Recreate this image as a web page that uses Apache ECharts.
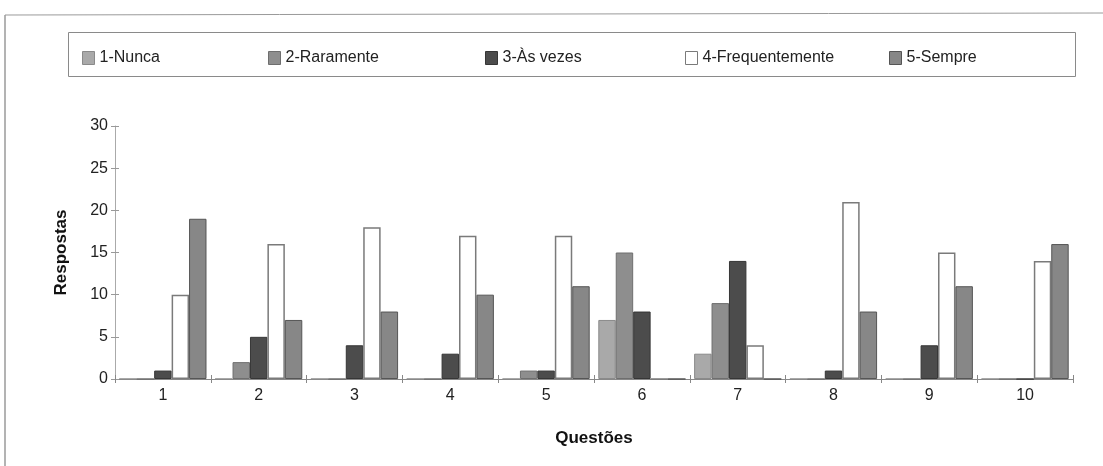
<!DOCTYPE html>
<html>
<head>
<meta charset="utf-8">
<script src="https://cdn.jsdelivr.net/npm/echarts@6/dist/echarts.min.js"></script>
<style>
  html, body { margin: 0; padding: 0; background: #fff; }
  #chart { width: 1103px; height: 466px; }
</style>
</head>
<body>
<div id="chart"></div>
<script>
// Questions on the x axis and answer counts per frequency level
const questoes = ['1', '2', '3', '4', '5', '6', '7', '8', '9', '10'];
const yTicks = [0, 5, 10, 15, 20, 25, 30];

const nunca          = [0, 0, 0, 0, 0, 7, 3, 0, 0, 0];
const raramente      = [0, 2, 0, 0, 1, 15, 9, 0, 0, 0];
const asVezes        = [1, 5, 4, 3, 1, 8, 14, 1, 4, 0];
const frequentemente = [10, 16, 18, 17, 17, 0, 4, 21, 15, 14];
const sempre         = [19, 7, 8, 10, 11, 0, 0, 8, 11, 16];

const seriesNames = ['1-Nunca', '2-Raramente', '3-Às vezes', '4-Frequentemente', '5-Sempre'];
const seriesData = [nunca, raramente, asVezes, frequentemente, sempre];

const fills   = ['#a9a9a9', '#8e8e8e', '#4c4c4c', '#ffffff', '#878787'];
const borders = ['#8a8a8a', '#6e6e6e', '#363636', '#7a7a7a', '#555555'];
const legendLeft = [82, 268, 485, 685, 889];

const FONT = '"Liberation Sans", Arial, sans-serif';

const chart = echarts.init(document.getElementById('chart'), null, { renderer: 'canvas' });

const option = {
  backgroundColor: '#ffffff',
  animation: false,
  textStyle: { fontFamily: FONT },
  graphic: [
    // outer frame (top and left edges)
    { type: 'line', shape: { x1: 5, y1: 15, x2: 1103, y2: 13 }, style: { stroke: '#9a9a9a', lineWidth: 1 }, silent: true },
    { type: 'line', shape: { x1: 5, y1: 15, x2: 5, y2: 466 }, style: { stroke: '#9a9a9a', lineWidth: 1.5 }, silent: true },
    // legend box
    { type: 'rect', shape: { x: 68.5, y: 32.5, width: 1007, height: 44 }, style: { fill: 'none', stroke: '#8a8a8a', lineWidth: 1 }, silent: true, z: -1 }
  ],
  legend: seriesNames.map((name, i) => ({
    data: [{ name: name, itemStyle: { color: fills[i], borderColor: borders[i], borderWidth: 1 } }],
    left: legendLeft[i],
    top: 50,
    padding: 0,
    icon: 'rect',
    itemWidth: 12,
    itemHeight: 13,
    selectedMode: false,
    textStyle: { fontFamily: FONT, fontSize: 16, color: '#222' }
  })),
  grid: { left: 115, right: 30, top: 126, bottom: 87 },
  xAxis: [{
    type: 'category',
    data: questoes,
    name: 'Questões',
    nameLocation: 'middle',
    nameGap: 51,
    nameTextStyle: { fontFamily: FONT, fontSize: 17, fontWeight: 'bold', color: '#111' },
    axisLine: { lineStyle: { color: '#888', width: 1 } },
    axisTick: { show: true, length: 4, lineStyle: { color: '#888' } },
    axisLabel: { fontFamily: FONT, fontSize: 16, color: '#222', margin: 9 }
  }, {
    // inner half of the crossing tick marks
    type: 'category',
    data: questoes,
    position: 'bottom',
    axisLine: { show: false },
    axisTick: { show: true, inside: true, length: 4, lineStyle: { color: '#888' } },
    axisLabel: { show: false }
  }],
  yAxis: [{
    type: 'value',
    min: yTicks[0],
    max: yTicks[yTicks.length - 1],
    interval: 5,
    name: 'Respostas',
    nameLocation: 'middle',
    nameGap: 45,
    nameTextStyle: { fontFamily: FONT, fontSize: 17, fontWeight: 'bold', color: '#111' },
    axisLine: { show: true, lineStyle: { color: '#aaa', width: 1 } },
    axisTick: { show: true, length: 4, lineStyle: { color: '#999' } },
    axisLabel: { fontFamily: FONT, fontSize: 16, color: '#222', margin: 7 },
    splitLine: { show: false }
  }, {
    type: 'value',
    position: 'left',
    min: yTicks[0],
    max: yTicks[yTicks.length - 1],
    interval: 5,
    axisLine: { show: false },
    axisTick: { show: true, inside: true, length: 4, lineStyle: { color: '#999' } },
    axisLabel: { show: false },
    splitLine: { show: false }
  }],
  series: seriesNames.map((name, i) => ({
    name: name,
    type: 'bar',
    xAxisIndex: 0,
    yAxisIndex: 0,
    data: seriesData[i],
    barGap: '0%',
    barCategoryGap: '9%',
    itemStyle: { color: fills[i], borderColor: borders[i], borderWidth: i === 3 ? 1.5 : 1 }
  }))
};

chart.setOption(option);
</script>
</body>
</html>
